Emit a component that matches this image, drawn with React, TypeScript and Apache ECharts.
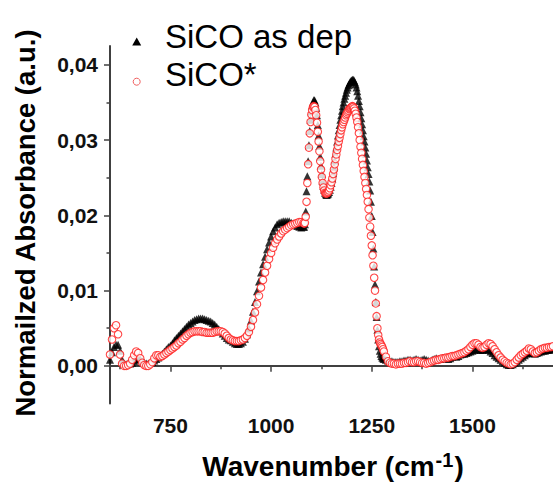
import React, { useEffect, useRef } from "react";
import * as echarts from "echarts";

// Sampling grid of the spectra (start, end, step in cm-1)
const gridLow = [600, 1080, 5];
const gridMid = [1082, 1280, 2];
const gridHigh = [1285, 1700, 5];

// SiCO as dep (black triangles)
const asDepLow = [
  0.0008, 0.0018, 0.0025, 0.0028, 0.0028, 0.002, 0.0008, 0.0003, 0.0002, 0.0003,
  0.0003, 0.0004, 0.0006, 0.0008, 0.001, 0.0009, 0.0006, 0.0004, 0.0003, 0.0003,
  0.0004, 0.0005, 0.0007, 0.0009, 0.0011, 0.0013, 0.0016, 0.0019, 0.0022, 0.0025,
  0.0027, 0.003, 0.0034, 0.0037, 0.004, 0.0043, 0.0046, 0.0049, 0.0052, 0.0055,
  0.0057, 0.0059, 0.0061, 0.0062, 0.0063, 0.0063, 0.0063, 0.0062, 0.0061, 0.006,
  0.0059, 0.0057, 0.0055, 0.0052, 0.0049, 0.0046, 0.0043, 0.004, 0.0037, 0.0035,
  0.0034, 0.0032, 0.003, 0.0029, 0.0029, 0.003, 0.0032, 0.0036, 0.0042, 0.005,
  0.006, 0.0072, 0.0085, 0.0099, 0.0112, 0.0124, 0.0135, 0.0145, 0.0155, 0.0164,
  0.0172, 0.0179, 0.0184, 0.0188, 0.019, 0.0191, 0.0192, 0.0192, 0.0192, 0.0192,
  0.019, 0.0189, 0.0188, 0.0186, 0.0185, 0.0184, 0.0185,
];
const asDepMid = [
  0.0185, 0.0188, 0.0205, 0.0232, 0.0252, 0.0272, 0.0293, 0.0312, 0.0327, 0.0338,
  0.0346, 0.035, 0.0353, 0.0353, 0.035, 0.0343, 0.0333, 0.032, 0.0306, 0.0292,
  0.0278, 0.0266, 0.0255, 0.0246, 0.0239, 0.0234, 0.023, 0.0228, 0.0227, 0.0228,
  0.0229, 0.0231, 0.0234, 0.0238, 0.0243, 0.0249, 0.0256, 0.0264, 0.0273, 0.0282,
  0.029, 0.0298, 0.0306, 0.0313, 0.032, 0.0327, 0.0333, 0.0339, 0.0345, 0.035,
  0.0355, 0.0359, 0.0363, 0.0367, 0.037, 0.0373, 0.0375, 0.0377, 0.0378, 0.0379,
  0.038, 0.038, 0.0379, 0.0377, 0.0374, 0.037, 0.0365, 0.0359, 0.0352, 0.0345,
  0.0337, 0.0329, 0.0321, 0.0313, 0.0305, 0.0298, 0.029, 0.0282, 0.0273, 0.0264,
  0.0255, 0.0245, 0.0233, 0.0218, 0.0199, 0.0178, 0.0156, 0.0132, 0.0108, 0.0085,
  0.0065, 0.0048, 0.0035, 0.0026, 0.002, 0.0016, 0.0013, 0.0011, 0.001, 0.0009,
];
const asDepHigh = [
  0.0008, 0.0007, 0.0006, 0.0006, 0.0005, 0.0005, 0.0005, 0.0006, 0.0006, 0.0007,
  0.0007, 0.0008, 0.0008, 0.0007, 0.0008, 0.0009, 0.0008, 0.0007, 0.0008, 0.0009,
  0.0008, 0.0007, 0.0006, 0.0008, 0.0009, 0.001, 0.0009, 0.0009, 0.001, 0.0011,
  0.001, 0.0009, 0.001, 0.0012, 0.0013, 0.0012, 0.0013, 0.0015, 0.0016, 0.0016,
  0.0017, 0.0018, 0.0019, 0.002, 0.0021, 0.0022, 0.0022, 0.0021, 0.0021, 0.0022,
  0.0022, 0.0021, 0.0019, 0.0017, 0.0014, 0.0012, 0.001, 0.0008, 0.0006, 0.0004,
  0.0002, 0.0001, 0.0001, 0.0002, 0.0004, 0.0006, 0.0008, 0.001, 0.0012, 0.0014,
  0.0016, 0.0017, 0.0018, 0.0017, 0.0016, 0.0017, 0.0018, 0.0019, 0.002, 0.002,
  0.0021, 0.0021, 0.0022, 0.0022,
];

// SiCO* (red open circles)
const treatedLow = [
  0.0015, 0.0035, 0.005, 0.0054, 0.0042, 0.0015, 0.0003, 0.0, 0.0, 0.0001,
  0.0003, 0.0008, 0.0014, 0.0019, 0.0017, 0.001, 0.0004, 0.0001, 0.0, 0.0,
  0.0002, 0.0005, 0.001, 0.0014, 0.0014, 0.0012, 0.0013, 0.0015, 0.0017, 0.0019,
  0.0021, 0.0023, 0.0025, 0.0027, 0.003, 0.0032, 0.0035, 0.0037, 0.004, 0.0042,
  0.0044, 0.0045, 0.0046, 0.0046, 0.0046, 0.0046, 0.0045, 0.0045, 0.0044, 0.0044,
  0.0044, 0.0044, 0.0045, 0.0046, 0.0046, 0.0046, 0.0045, 0.0043, 0.004, 0.0037,
  0.0035, 0.0034, 0.0033, 0.0033, 0.0033, 0.0034, 0.0035, 0.0037, 0.004, 0.0045,
  0.0052, 0.0061, 0.0071, 0.0082, 0.0093, 0.0104, 0.0114, 0.0124, 0.0133, 0.0142,
  0.015, 0.0157, 0.0163, 0.0168, 0.0172, 0.0176, 0.0179, 0.0181, 0.0183, 0.0185,
  0.0187, 0.0188, 0.0189, 0.019, 0.0191, 0.0191, 0.019,
];
const treatedMid = [
  0.0189, 0.019, 0.0198, 0.0218, 0.0243, 0.0268, 0.029, 0.0309, 0.0324, 0.0334,
  0.034, 0.0344, 0.0345, 0.0344, 0.034, 0.0333, 0.0323, 0.0311, 0.0298, 0.0285,
  0.0272, 0.0261, 0.0251, 0.0243, 0.0237, 0.0233, 0.023, 0.0229, 0.0229, 0.023,
  0.0231, 0.0233, 0.0236, 0.024, 0.0244, 0.0249, 0.0255, 0.0261, 0.0268, 0.0275,
  0.0281, 0.0287, 0.0292, 0.0298, 0.0303, 0.0308, 0.0313, 0.0317, 0.0321, 0.0324,
  0.0327, 0.033, 0.0333, 0.0335, 0.0337, 0.0339, 0.0341, 0.0342, 0.0343, 0.0344,
  0.0345, 0.0344, 0.0342, 0.0339, 0.0335, 0.033, 0.0324, 0.0317, 0.0309, 0.03,
  0.0291, 0.0283, 0.0275, 0.0267, 0.0259, 0.0251, 0.0243, 0.0235, 0.0227, 0.0218,
  0.0208, 0.0197, 0.0185, 0.0173, 0.016, 0.0147, 0.0133, 0.0117, 0.01, 0.0083,
  0.0066, 0.005, 0.0041, 0.0035, 0.0031, 0.0029, 0.0027, 0.0025, 0.0022, 0.0019,
];
const treatedHigh = [
  0.0012, 0.0006, 0.0004, 0.0003, 0.0003, 0.0002, 0.0003, 0.0003, 0.0003, 0.0004,
  0.0004, 0.0005, 0.0006, 0.0005, 0.0005, 0.0006, 0.0006, 0.0005, 0.0004, 0.0004,
  0.0003, 0.0004, 0.0005, 0.0006, 0.0007, 0.0008, 0.0008, 0.0009, 0.001, 0.001,
  0.0011, 0.0011, 0.0012, 0.0013, 0.0013, 0.0014, 0.0015, 0.0016, 0.0017, 0.0018,
  0.002, 0.0022, 0.0025, 0.0028, 0.003, 0.003, 0.0028, 0.0025, 0.0024, 0.0025,
  0.0028, 0.003, 0.0029, 0.0026, 0.0022, 0.0018, 0.0014, 0.0011, 0.0008, 0.0006,
  0.0004, 0.0003, 0.0002, 0.0003, 0.0005, 0.0008, 0.0011, 0.0014, 0.0016, 0.0018,
  0.002, 0.0023, 0.0022, 0.0019, 0.0017, 0.0018, 0.002, 0.0022, 0.0023, 0.0024,
  0.0024, 0.0025, 0.0025, 0.0026,
];

const seriesNames = ["SiCO as dep", "SiCO*"];
const xMajorTicks = [750, 1000, 1250, 1500];
const xMinorTicks = [625, 875, 1125, 1375, 1625];
const yMajorTicks = [0, 0.01, 0.02, 0.03, 0.04];
const yMinorTicks = [0.005, 0.015, 0.025, 0.035];

function gridValues(seg: number[]): number[] {
  const [start, end, step] = seg;
  const out: number[] = [];
  for (let w = start; w <= end + 1e-9; w += step) out.push(w);
  return out;
}

function pairs(segs: number[][], vals: number[][]): number[][] {
  const res: number[][] = [];
  segs.forEach((seg, i) => {
    const xs = gridValues(seg);
    const ys = vals[i];
    const n = Math.min(xs.length, ys.length);
    for (let k = 0; k < n; k++) res.push([xs[k], ys[k]]);
  });
  return res;
}

const FONT = '"Liberation Sans", Arial, Helvetica, sans-serif';
const AXIS_COLOR = "#404040";

export default function App() {
  const ref = useRef<HTMLDivElement>(null);
  useEffect(() => {
    if (!ref.current) return;
    const chart = echarts.init(ref.current, undefined, { renderer: "svg" });
    const segs = [gridLow, gridMid, gridHigh];
    const blackData = pairs(segs, [asDepLow, asDepMid, asDepHigh]);
    const redData = pairs(segs, [treatedLow, treatedMid, treatedHigh]);
    const xMin = 600, xMax = 1700, yMin = -0.005, yMax = 0.0425;
    const tickLabel = {
      fontFamily: FONT,
      fontSize: 21,
      fontWeight: "bold" as const,
      color: "#111",
    };
    chart.setOption({
      animation: false,
      backgroundColor: "#fff",
      grid: { left: 110, top: 46, width: 444, height: 357.5, containLabel: false },
      xAxis: [
        {
          type: "value",
          min: xMin,
          max: xMax,
          position: "bottom",
          axisLine: { show: true, lineStyle: { color: AXIS_COLOR, width: 2 } },
          axisTick: { show: true, length: 6, customValues: xMajorTicks, lineStyle: { color: AXIS_COLOR, width: 1.5 } },
          axisLabel: { ...tickLabel, margin: 11, customValues: xMajorTicks, formatter: (v: number) => String(v) },
          splitLine: { show: false },
        },
        {
          type: "value",
          min: xMin,
          max: xMax,
          position: "bottom",
          axisLine: { show: false },
          axisTick: { show: true, length: 3.5, customValues: xMinorTicks, lineStyle: { color: AXIS_COLOR, width: 1.5 } },
          axisLabel: { show: false },
          splitLine: { show: false },
        },
      ],
      yAxis: [
        {
          type: "value",
          min: yMin,
          max: yMax,
          position: "left",
          axisLine: { show: true, lineStyle: { color: AXIS_COLOR, width: 2 } },
          axisTick: { show: true, length: 6, customValues: yMajorTicks, lineStyle: { color: AXIS_COLOR, width: 1.5 } },
          axisLabel: {
            ...tickLabel,
            margin: 12,
            customValues: yMajorTicks,
            formatter: (v: number) => v.toFixed(2).replace(".", ","),
          },
          splitLine: { show: false },
        },
        {
          type: "value",
          min: yMin,
          max: yMax,
          position: "left",
          axisLine: { show: false },
          axisTick: { show: true, length: 3.5, customValues: yMinorTicks, lineStyle: { color: AXIS_COLOR, width: 1.5 } },
          axisLabel: { show: false },
          splitLine: { show: false },
        },
      ],
      series: [
        {
          name: seriesNames[0],
          type: "scatter",
          xAxisIndex: 0,
          yAxisIndex: 0,
          symbol: "triangle",
          symbolSize: 8,
          clip: false,
          itemStyle: { color: "#000" },
          data: blackData,
        },
        {
          name: seriesNames[1],
          type: "scatter",
          xAxisIndex: 0,
          yAxisIndex: 0,
          symbol: "circle",
          symbolSize: 7.5,
          clip: false,
          itemStyle: { color: "#fff", borderColor: "#ff1a1a", borderWidth: 1.1 },
          data: redData,
        },
      ],
      graphic: [
        {
          type: "polygon",
          shape: { points: [[136.7, 37.5], [141.2, 45.5], [132.2, 45.5]] },
          style: { fill: "#000" },
        },
        {
          type: "circle",
          shape: { cx: 136.7, cy: 81.7, r: 3.5 },
          style: { fill: "#fff", stroke: "#f06060", lineWidth: 1 },
        },
        {
          type: "text",
          x: 165,
          y: 36,
          style: { text: seriesNames[0], fontFamily: FONT, fontSize: 33, fill: "#000", align: "left", verticalAlign: "middle" },
        },
        {
          type: "text",
          x: 165,
          y: 74,
          style: { text: seriesNames[1], fontFamily: FONT, fontSize: 33, fill: "#000", align: "left", verticalAlign: "middle" },
        },
        {
          type: "text",
          x: 25,
          y: 223,
          rotation: Math.PI / 2,
          style: {
            text: "Normailzed Absorbance (a.u.)",
            fontFamily: FONT,
            fontSize: 27.5,
            fontWeight: "bold",
            fill: "#000",
            align: "center",
            verticalAlign: "middle",
          },
        },
        {
          type: "text",
          x: 333,
          y: 465,
          style: {
            text: "{base|Wavenumber (cm}{sup|-1}{base|)}",
            fontFamily: FONT,
            fontSize: 28,
            fontWeight: "bold",
            fill: "#000",
            align: "center",
            verticalAlign: "middle",
            rich: {
              base: { fontFamily: FONT, fontSize: 28, fontWeight: "bold", fill: "#000", verticalAlign: "bottom" },
              sup: { fontFamily: FONT, fontSize: 20, fontWeight: "bold", fill: "#000", verticalAlign: "bottom", padding: [0, 1, 11, 1] },
            },
          },
        },
      ],
    });
    return () => chart.dispose();
  }, []);
  return (
    <div
      ref={ref}
      style={{ position: "fixed", left: 0, top: 0, width: 553, height: 482, background: "#fff" }}
    />
  );
}
